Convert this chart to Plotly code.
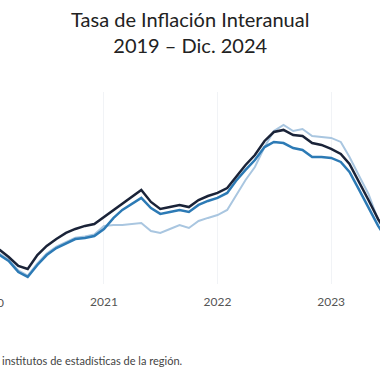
import plotly.graph_objects as go
import pandas as pd

# Monthly observations, Dec 2019 .. Jul 2023 (the visible window of the chart)
months = pd.date_range("2019-12-01", periods=44, freq="MS")

serie_oscura = [2.50, 2.38, 2.13, 1.69, 1.13, 0.94, 1.81, 2.38, 2.81, 3.19, 3.44, 3.63, 3.75,
                4.19, 4.63, 5.06, 5.50, 5.88, 5.13, 4.69, 4.81, 4.94, 4.81, 5.25, 5.50,
                5.69, 6.00, 6.69, 7.44, 8.06, 8.94, 9.50, 9.63, 9.31, 9.25, 8.81, 8.69,
                8.44, 8.13, 7.50, 6.38, 5.25, 4.06, 3.13]
serie_media = [2.13, 2.00, 1.81, 1.44, 0.75, 0.44, 1.19, 1.81, 2.25, 2.56, 2.81, 2.88, 3.00,
               3.44, 4.13, 4.63, 5.00, 5.38, 4.75, 4.38, 4.50, 4.63, 4.50, 4.94, 5.19,
               5.38, 5.69, 6.44, 7.13, 7.75, 8.56, 8.88, 8.81, 8.50, 8.38, 7.94, 7.94,
               7.88, 7.63, 7.00, 5.88, 4.81, 3.63, 2.75]
serie_clara = [2.22, 2.10, 1.90, 1.52, 0.85, 0.52, 1.28, 1.90, 2.34, 2.65, 2.90, 2.97, 3.10,
               3.63, 3.69, 3.69, 3.75, 3.81, 3.31, 3.19, 3.44, 3.69, 3.50, 3.94, 4.13,
               4.31, 4.63, 5.56, 6.50, 7.31, 8.56, 9.56, 9.94, 9.56, 9.69, 9.25, 9.19,
               9.13, 8.88, 7.94, 6.75, 5.63, 4.00, 3.00]

year_ticks = ["2020-01-01", "2021-01-01", "2022-01-01", "2023-01-01"]
year_labels = ["2020", "2021", "2022", "2023"]

title_text = "Tasa de Inflación Interanual<br>2019 – Dic. 2024"
footer_text = "institutos de estadísticas de la región."

fig = go.Figure()
fig.add_trace(go.Scatter(x=months, y=serie_clara, mode="lines", name="Serie C",
                         line=dict(color="#a9c6e0", width=2)))
fig.add_trace(go.Scatter(x=months, y=serie_media, mode="lines", name="Serie B",
                         line=dict(color="#2c7ab5", width=2.5)))
fig.add_trace(go.Scatter(x=months, y=serie_oscura, mode="lines", name="Serie A",
                         line=dict(color="#1a2338", width=2.5)))

fig.update_layout(
    width=380, height=380,
    margin=dict(l=0, r=0, t=92, b=96),
    paper_bgcolor="white", plot_bgcolor="white",
    showlegend=False,
    font=dict(family="Lato, Open Sans, sans-serif"),
)
fig.update_xaxes(
    type="date",
    range=["2020-02-02", "2023-06-07"],
    tickvals=year_ticks, ticktext=year_labels,
    showgrid=True, gridcolor="#f1f3f6", gridwidth=1,
    zeroline=False, showline=False, ticks="",
    ticklabelstandoff=9,
    tickfont=dict(size=12, color="#555555"),
)
fig.update_yaxes(range=[0, 12], visible=False, showgrid=False, zeroline=False)

# title (two lines)
fig.add_annotation(x=0.5, y=1.31, xref="paper", yref="paper", text=title_text,
                   showarrow=False, xanchor="center", yanchor="middle",
                   font=dict(size=20, color="#222222"))
# first year label lies just left of the visible window (cropped, as in the reference)
fig.add_annotation(x=-10 / 380, y=-0.094, xref="paper", yref="paper", text=year_labels[0],
                   showarrow=False, xanchor="center", yanchor="middle",
                   font=dict(size=12, color="#555555"))
fig.add_annotation(x=0.0, y=-0.396, xref="paper", yref="paper", text=footer_text,
                   showarrow=False, xanchor="left", yanchor="middle",
                   font=dict(size=11, color="#444444"))

fig.write_html("out.html", config={"displayModeBar": False},
               post_script="document.body.style.margin='0px';")
